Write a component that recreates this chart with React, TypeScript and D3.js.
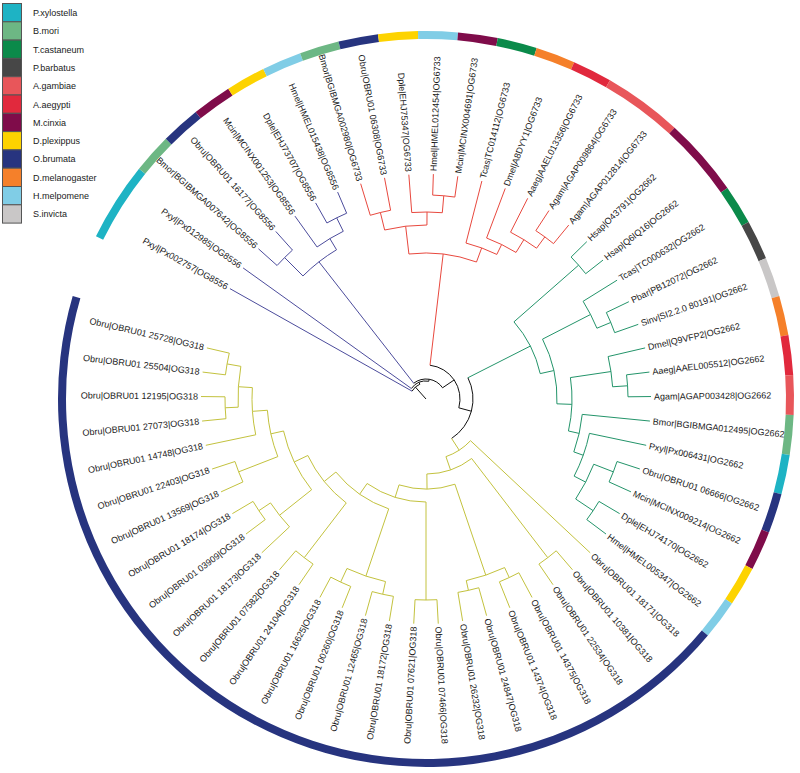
import React from "react";
import * as d3 from "d3";

// ---------- DATA ----------
const LEGEND_SPECIES = ["P.xylostella", "B.mori", "T.castaneum", "P.barbatus", "A.gambiae", "A.aegypti", "M.cinxia", "D.plexippus", "O.brumata", "D.melanogaster", "H.melpomene", "S.invicta"];
const LEGEND_COLORS = ["#1eb3c4", "#6db784", "#0b8a4a", "#474747", "#e8565a", "#e1293d", "#7f0c4a", "#fdd300", "#27347f", "#f5802a", "#80cde6", "#c9c7c7"];
const PREFIXES = ["Pxyl", "Bmor", "Tcas", "Pbar", "Agam", "Aaeg", "Mcin", "Dple", "Obru", "Dmel", "Hmel", "Sinv", "Hsap"];
const PREFIX_LEGEND_INDEX = [0, 1, 2, 3, 4, 5, 6, 7, 8, 9, 10, 11, 6];

const GROUPS = ["OG8556", "OG6733", "OG2662", "OG318"];
const GROUP_COLORS = ["#4c4c9c", "#e8483e", "#23946a", "#c3c23e"];

// clades in Newick form; number after ':' = radius (px) of that internal node
const CLADE_OG8556 = "((Bmor|BGIBMGA007642|OG8556,Obru|OBRU01 16177|OG8556):200,(Mcin|MCINX001253|OG8556,(Dple|EHJ73707|OG8556,Hmel|HMEL015438|OG8556):202):187):174";
const CLADE_OG6733 = "(((Bmor|BGIBMGA002980|OG6733,Obru|OBRU01 06308|OG6733):192,(Dple|EHJ75347|OG6733,(Hmel|HMEL012454|OG6733,Mcin|MCINX004691|OG6733):204):187):174,(Tcas|TC014112|OG6733,(Dmel|A8DYY1|OG6733,(Aaeg|AAEL013356|OG6733,(Agam|AGAP009864|OG6733,Agam|AGAP012814|OG6733):201):187):172):161):146";
const CLADE_OG2662 = "((Hsap|O43791|OG2662,Hsap|Q6IQ16|OG2662):203,((Tcas|TC000632|OG2662,(Pbar|PB12072|OG2662,Sinv|SI2.2.0 80191|OG2662):200):185,((Dmel|Q9VFP2|OG2662,(Aaeg|AAEL005512|OG2662,Agam|AGAP003428|OG2662):202):187,(Bmor|BGIBMGA012495|OG2662,(Pxyl|Px006431|OG2662,((Obru|OBRU01 06666|OG2662,Mcin|MCINX009214|OG2662):201,(Dple|EHJ74170|OG2662,Hmel|HMEL005347|OG2662):201):180):167):157):146):131):117";
const OG318_Q4 = "((Obru|OBRU01 27073|OG318,Obru|OBRU01 12195|OG318):201,(Obru|OBRU01 25504|OG318,Obru|OBRU01 25728|OG318):202):188";
const OG318_L3 = `(Obru|OBRU01 14748|OG318,${OG318_Q4}):174`;
const OG318_L4 = `((Obru|OBRU01 13569|OG318,Obru|OBRU01 22403|OG318):201,${OG318_L3}):159`;
const OG318_L5 = `((Obru|OBRU01 18173|OG318,(Obru|OBRU01 03909|OG318,Obru|OBRU01 18174|OG318):201):187,${OG318_L4}):146`;
const OG318_L6 = `((Obru|OBRU01 24104|OG318,Obru|OBRU01 07582|OG318):200,${OG318_L5}):131`;
const OG318_L7 = `(((Obru|OBRU01 18172|OG318,Obru|OBRU01 12465|OG318):200,(Obru|OBRU01 00260|OG318,Obru|OBRU01 16625|OG318):202):187,${OG318_L6}):116`;
const OG318_YF = `((Obru|OBRU01 07466|OG318,Obru|OBRU01 07621|OG318):201,${OG318_L7}):103`;
const OG318_YD = `(((Obru|OBRU01 14375|OG318,Obru|OBRU01 14374|OG318):197,(Obru|OBRU01 24847|OG318,Obru|OBRU01 26232|OG318):196):186,${OG318_YF}):90`;
const CLADE_OG318 = `(Obru|OBRU01 18171|OG318,((Obru|OBRU01 10381|OG318,Obru|OBRU01 22534|OG318):200,${OG318_YD}):75):61`;

const TREE = `(Pxyl|Px002757|OG8556,(Pxyl|Px012985|OG8556,(${CLADE_OG8556},(${CLADE_OG6733},(${CLADE_OG2662},${CLADE_OG318}):47):34):20):18):16`;

// layout constants
const ARC_START = 296.25; // degrees, clockwise from north
const ARC_SPAN = 350;
const CX = 426, CY = 399;
const LEAF_R = 225, LABEL_R = 228, RING_IN = 360, RING_OUT = 368;

type N = { name?: string; r?: number; children?: N[] };

function parseNewick(s: string): N {
  let i = 0;
  function node(): N {
    if (s[i] === "(") {
      i++;
      const children: N[] = [node()];
      while (s[i] === ",") { i++; children.push(node()); }
      i++; // ')'
      let r = 0;
      if (s[i] === ":") {
        i++;
        let num = "";
        while (i < s.length && /[0-9.]/.test(s[i])) num += s[i++];
        r = +num;
      }
      return { children, r };
    }
    let name = "";
    while (i < s.length && s[i] !== "," && s[i] !== ")") name += s[i++];
    return { name };
  }
  return node();
}

const rad = (deg: number) => (deg * Math.PI) / 180;
const pt = (r: number, deg: number): [number, number] => [CX + r * Math.sin(rad(deg)), CY - r * Math.cos(rad(deg))];

export default function App() {
  const root = d3.hierarchy<N>(parseNewick(TREE), (d) => d.children);
  const leaves = root.leaves();
  const angle = d3.scaleLinear().domain([0, leaves.length]).range([ARC_START, ARC_START + ARC_SPAN]);

  const ang = new Map<any, number>();
  const rr = new Map<any, number>();
  const grp = new Map<any, number>();
  leaves.forEach((l, i) => ang.set(l, angle(i + 0.5)));
  root.eachAfter((n) => {
    if (n.children) {
      const a = ang.get(n.children[0])!, b = ang.get(n.children[n.children.length - 1])!;
      ang.set(n, (a + b) / 2);
      rr.set(n, n.data.r!);
      const gs = new Set(n.children.map((c) => grp.get(c)));
      grp.set(n, gs.size === 1 ? (grp.get(n.children[0]) as number) : -1);
    } else {
      rr.set(n, LEAF_R);
      const g = n.data.name!.split("|")[2];
      grp.set(n, GROUPS.indexOf(g));
    }
  });
  const colorOf = (n: any) => (grp.get(n) >= 0 ? GROUP_COLORS[grp.get(n)] : "#111");

  const branches: { d: string; c: string }[] = [];
  root.each((n) => {
    const a = ang.get(n)!;
    const r = rr.get(n)!;
    const pr = n.parent ? rr.get(n.parent)! : 0;
    const p0 = pt(pr, a), p1 = pt(r, a);
    branches.push({ d: `M${p0[0]},${p0[1]}L${p1[0]},${p1[1]}`, c: colorOf(n) });
    if (n.children) {
      const a0 = ang.get(n.children[0])!, a1 = ang.get(n.children[n.children.length - 1])!;
      const p = d3.path();
      const s = pt(r, a0);
      p.moveTo(s[0], s[1]);
      p.arc(CX, CY, r, rad(a0 - 90), rad(a1 - 90), false);
      branches.push({ d: p.toString(), c: colorOf(n) });
    }
  });

  // ring runs of consecutive leaves with the same species colour
  const leafColor = leaves.map((l) => LEGEND_COLORS[PREFIX_LEGEND_INDEX[PREFIXES.indexOf(l.data.name!.split("|")[0])]]);
  const runs: { s: number; e: number; c: string }[] = [];
  leafColor.forEach((c, i) => {
    const last = runs[runs.length - 1];
    if (last && last.c === c) last.e = i + 1;
    else runs.push({ s: i, e: i + 1, c });
  });
  const ringArc = d3.arc<any>().innerRadius(RING_IN).outerRadius(RING_OUT);

  return (
    <svg width={800} height={773} style={{ position: "absolute", left: 0, top: 0, background: "#fff" }} fontFamily="'Liberation Sans', Arial, sans-serif">
      <rect width={800} height={773} fill="#fff" />
      {/* outer species ring */}
      <g transform={`translate(${CX},${CY})`}>
        {runs.map((run, i) => (
          <path key={i} d={ringArc({ startAngle: rad(angle(run.s)), endAngle: rad(angle(run.e)) })!} fill={run.c} />
        ))}
      </g>
      {/* branches */}
      <g fill="none" strokeWidth={1}>
        {branches.map((b, i) => (
          <path key={i} d={b.d} stroke={b.c} />
        ))}
      </g>
      {/* labels */}
      <g fontSize={9} fill="#1a1a1a">
        {leaves.map((l, i) => {
          const a = ((ang.get(l)! % 360) + 360) % 360;
          const flip = a >= 180;
          return (
            <text key={i} transform={`translate(${CX},${CY}) rotate(${a - 90}) translate(${LABEL_R},0)${flip ? " rotate(180)" : ""}`} textAnchor={flip ? "end" : "start"} dy="0.35em">
              {l.data.name}
            </text>
          );
        })}
      </g>
      {/* legend */}
      <g>
        {LEGEND_SPECIES.map((s, i) => (
          <g key={s}>
            <rect x={2.5} y={3.5 + i * 18.3} width={19} height={18.3} fill={LEGEND_COLORS[i]} stroke="#555" strokeWidth={1} />
            <text x={33} y={3.5 + i * 18.3 + 12.5} fontSize={9} fill="#1a1a1a">{s}</text>
          </g>
        ))}
      </g>
    </svg>
  );
}
